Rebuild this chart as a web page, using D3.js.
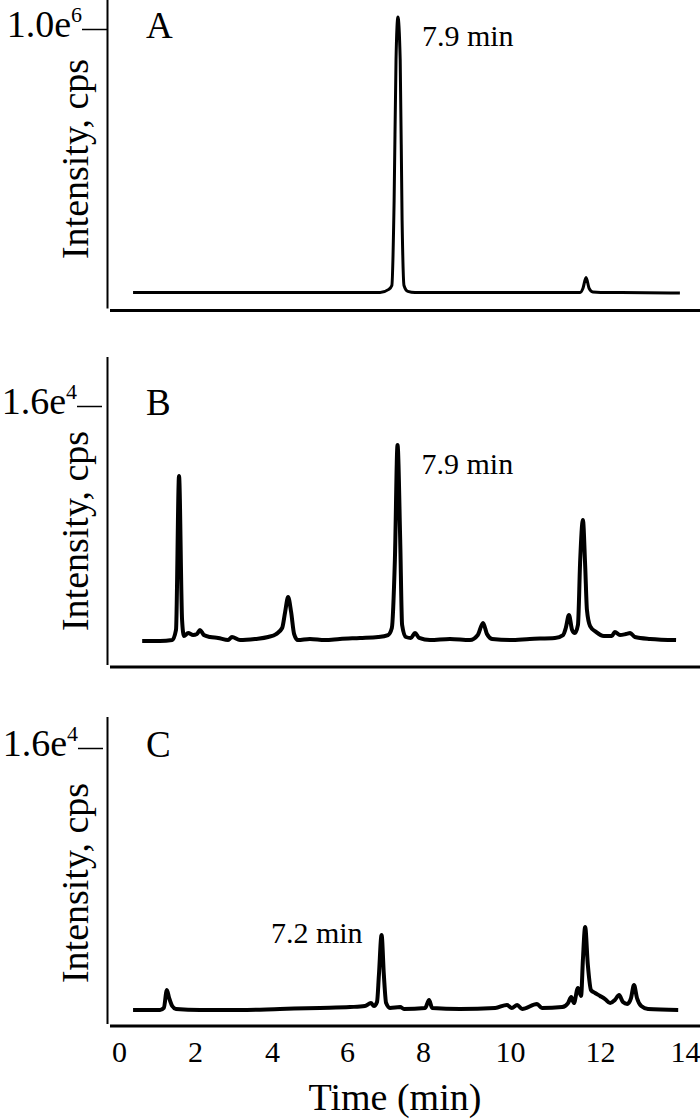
<!DOCTYPE html>
<html lang="en">

<head>
	<meta charset="UTF-8" />
	<title>Chromatograms</title>
	<script src="https://cdn.jsdelivr.net/npm/d3@7"></script>
	<style>
		body { margin: 0; background: #fff; }
		svg text { font-family: "Liberation Serif", "Times New Roman", serif; fill: #000; }
	</style>
</head>

<body>
	<svg id="vis" width="700" height="1120"></svg>
	<script>
		// Tick labels of the time axis
		const timeTicks = [0, 2, 4, 6, 8, 10, 12, 14];

		const panelNames = ["A", "B", "C"];
		const maxValues = [1.0e6, 1.6e4, 1.6e4];
		const maxLabels = [["1.0e", "6"], ["1.6e", "4"], ["1.6e", "4"]];
		const peakLabels = ["7.9 min", "7.9 min", "7.2 min"];
		const peakTimes = [7.34, 7.33, 6.91];
		const peakValues = [1043000, 13600, 5240];

		// Trace A
		const timeA = [0.37, 6.87, 7.1, 7.18, 7.24, 7.29, 7.34, 7.4, 7.45, 7.5, 7.6, 7.79,
			11.56, 11.62, 11.69, 11.76, 11.84, 12.2, 12.5, 13.88];
		const intensityA = [64000, 64000, 75000, 89000, 390000, 890000, 1043000, 890000, 320000, 89000, 68000, 64000,
			64000, 78000, 117000, 78000, 66000, 64000, 64000, 62000];

		// Trace B
		const timeB = [0.61, 1.08, 1.4, 1.5, 1.58, 1.66, 1.71, 1.82, 1.95, 2.05, 2.13, 2.23, 2.39, 2.6, 2.86, 2.96,
			3.17, 3.56, 3.9, 4.11, 4.27, 4.35, 4.43, 4.51, 4.59, 4.69, 5.01, 5.41, 5.81, 6.34, 6.82, 7.08, 7.18,
			7.26, 7.33, 7.4, 7.45, 7.55, 7.68, 7.79, 7.9, 8.16, 8.62, 9.08, 9.26, 9.38, 9.47, 9.59, 10.0, 10.44,
			11.0, 11.18, 11.24, 11.31, 11.38, 11.44, 11.51, 11.56, 11.62, 11.67, 11.71, 11.78, 11.91, 12.09,
			12.28, 12.35, 12.47, 12.61, 12.71, 12.82, 13.18, 13.79];
		const intensityB = [1590, 1590, 1650, 2270, 11710, 2880, 1900, 2080, 1960, 2020, 2270, 1960, 1840, 1780, 1650, 1840,
			1650, 1720, 1840, 2020, 2390, 3370, 4290, 3370, 2020, 1650, 1720, 1650, 1720, 1780, 1840, 1960, 2390,
			6560, 13610, 7790, 2580, 1840, 1780, 2080, 1780, 1650, 1720, 1650, 1960, 2700, 2020, 1720, 1650, 1720,
			1780, 1960, 2390, 3190, 2270, 2080, 2580, 6560, 9010, 6250, 3490, 2510, 2150, 1900,
			1900, 2150, 1960, 2020, 2080, 1840, 1720, 1650];

		// Trace C
		const timeC = [0.37, 1.08, 1.18, 1.26, 1.32, 1.4, 1.5, 2.13, 3.17, 4.21, 5.28, 6.08, 6.47, 6.63, 6.71, 6.79,
			6.84, 6.91, 6.97, 7.03, 7.13, 7.4, 7.5, 8.05, 8.14, 8.21, 8.85, 9.66, 9.93, 10.04, 10.16, 10.27, 10.6,
			10.71, 11.16, 11.29, 11.36, 11.42, 11.51, 11.58, 11.62, 11.67, 11.73, 11.8, 11.89, 12.0, 12.12, 12.24,
			12.35, 12.45, 12.54, 12.64, 12.73, 12.8, 12.87, 12.97, 13.13, 13.84];
		const intensityC = [920, 920, 1040, 2070, 1610, 1150, 980, 920, 920, 980, 1040, 1090, 1150, 1320, 1150, 1380,
			2940, 5240, 2940, 1320, 1040, 1090, 980, 1040, 1500, 1040, 980, 1040, 1210, 1040, 1210, 980, 1270,
			1040, 1090, 1320, 1670, 1320, 2190, 1730, 3800, 5700, 3510, 2070, 1900, 1730, 1550, 1320,
			1500, 1780, 1380, 1270, 1610, 2360, 1610, 1150, 980, 920];

		const times = [timeA, timeB, timeC];
		const intensities = [intensityA, intensityB, intensityC];

		// Layout of each panel (pixels)
		const layout = [
			{ base: 310.5, top: 29, axisTop: 0, tickX: 107, labelY: 159, labelSide: 1 },
			{ base: 667, top: 406, axisTop: 357, tickX: 102, labelY: 531, labelSide: 1 },
			{ base: 1026, top: 748, axisTop: 717, tickX: 103, labelY: 883, labelSide: -1 }
		];

		let svg = d3.select("#vis");

		// Time scale (the printed ticks are not evenly spaced)
		let x = d3.scaleLinear()
			.domain(timeTicks)
			.range([119, 195, 272, 347, 423, 510, 600, 685]);

		for (let i = 0; i < layout.length; i++) {
			let p = layout[i];

			let y = d3.scaleLinear()
				.domain([0, maxValues[i]])
				.range([p.base, p.top]);

			let g = svg.append("g");

			// Axis lines
			g.append("line")
				.attr("x1", 107.5).attr("x2", 107.5)
				.attr("y1", p.axisTop).attr("y2", p.base - 2)
				.attr("stroke", "#000").attr("stroke-width", 2);
			g.append("line")
				.attr("x1", 110).attr("x2", 700)
				.attr("y1", p.base).attr("y2", p.base)
				.attr("stroke", "#000").attr("stroke-width", 3);

			// Single y tick at the max value
			let yAxis = d3.axisLeft(y).tickValues([maxValues[i]]).tickSize(25).tickFormat("");
			let gy = g.append("g")
				.attr("transform", "translate(" + p.tickX + ",0)")
				.call(yAxis);
			gy.select(".domain").remove();
			gy.selectAll(".tick line").attr("stroke-width", 1.5);

			let tl = g.append("text")
				.attr("x", p.tickX - 25)
				.attr("y", y(maxValues[i]) + 8)
				.attr("text-anchor", "end")
				.attr("font-size", 38);
			tl.append("tspan").text(maxLabels[i][0]);
			tl.append("tspan").attr("dy", -15).attr("font-size", 22).text(maxLabels[i][1]);

			// Panel letter
			g.append("text")
				.attr("x", 146)
				.attr("y", y(maxValues[i]) + 9)
				.attr("font-size", 37)
				.text(panelNames[i]);

			// Y label
			g.append("text")
				.attr("transform", "translate(88," + p.labelY + ") rotate(-90)")
				.attr("text-anchor", "middle")
				.attr("font-size", 38)
				.text("Intensity, cps");

			// Trace
			let line = d3.line()
				.x(d => x(d[0]))
				.y(d => y(d[1]))
				.curve(d3.curveMonotoneX);
			g.append("path")
				.attr("d", line(d3.zip(times[i], intensities[i])))
				.attr("fill", "none")
				.attr("stroke", "#000")
				.attr("stroke-width", i == 0 ? 3 : 4)
				.attr("stroke-linejoin", "round");

			// Peak annotation
			let px = x(peakTimes[i]);
			let py = y(peakValues[i]);
			g.append("text")
				.attr("x", p.labelSide > 0 ? px + 24 : px - 19)
				.attr("y", p.labelSide > 0 ? py + 29 : py + 8)
				.attr("text-anchor", p.labelSide > 0 ? "start" : "end")
				.attr("font-size", 30)
				.text(peakLabels[i]);
		}

		// Bottom time axis
		let xAxis = d3.axisBottom(x).tickValues(timeTicks).tickSize(0).tickPadding(15);
		let gx = svg.append("g")
			.attr("transform", "translate(0," + layout[2].base + ")")
			.call(xAxis);
		gx.select(".domain").remove();
		gx.attr("font-size", 30).attr("font-family", "Liberation Serif, Times New Roman, serif");

		svg.append("text")
			.attr("x", 395)
			.attr("y", 1110)
			.attr("text-anchor", "middle")
			.attr("font-size", 38)
			.text("Time (min)");
	</script>
</body>

</html>
